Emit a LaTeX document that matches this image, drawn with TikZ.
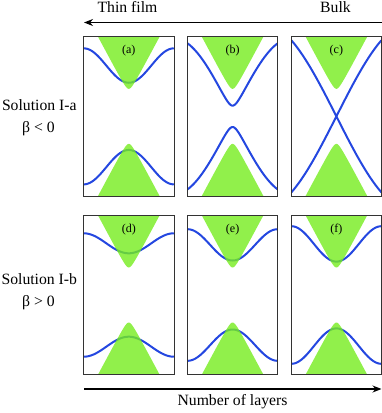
\documentclass[tikz,border=0pt]{standalone}
\usepackage{fontspec}
\setmainfont{Liberation Serif}
\usetikzlibrary{arrows.meta}
\definecolor{bandblue}{HTML}{2447E0}
\definecolor{conelime}{HTML}{76EC1E}
\definecolor{boxink}{HTML}{333333}
\tikzset{
  panel/.style={draw=boxink, line width=1pt},
  slot/.style={inner sep=0pt, minimum width=90pt, minimum height=159.5pt},
  band/.style={bandblue, line width=2pt},
  cone/.style={fill=conelime, fill opacity=0.8},
  tag/.style={font=\fontsize{12}{14}\selectfont, inner sep=0pt},
  lbl/.style={font=\fontsize{15.7}{18}\selectfont, inner sep=0pt, anchor=base},
  arr/.style={-{Stealth[length=9pt,width=7pt]}, line width=1.2pt},
}
\begin{document}
\begin{tikzpicture}[x=1pt,y=-1pt]
  \useasboundingbox (0,0) rectangle (382,413);
  % panels with smooth gapped bands
  \foreach \cx/\cy/\m/\M/\tg in {128.8/116.35/33.6/68/a, 128.8/295/41.7/61.7/d,
      232.6/295/34.5/65.8/e, 336.4/295/33.4/68.8/f}{
    \node[slot] (p\tg) at (\cx,\cy) {};
    \begin{scope}
      \clip (p\tg.south west) rectangle (p\tg.north east);
      \draw[band] plot[variable=\u, domain=-1:1, samples=61, smooth]
        ({\cx+45*\u}, {\cy-(\m+(\M-\m)*(1-cos(180*\u))/2)});
      \draw[band] plot[variable=\u, domain=-1:1, samples=61, smooth]
        ({\cx+45*\u}, {\cy+(\m+(\M-\m)*(1-cos(180*\u))/2)});
      \fill[cone] plot[variable=\u, domain=-34:34, samples=69]
        ({\cx+\u}, {\cy-21.5-sqrt(36+(1.877*\u)*(1.877*\u))}) -- cycle;
      \fill[cone] plot[variable=\u, domain=-34:34, samples=69]
        ({\cx+\u}, {\cy+21.5+sqrt(36+(1.877*\u)*(1.877*\u))}) -- cycle;
    \end{scope}
    \draw[panel] (p\tg.south west) rectangle (p\tg.north east);
    \node[tag, below=9pt] (t\tg) at (p\tg.north) {(\tg)};
  }
  % panels with Dirac-like bands
  \foreach \cx/\m/\A/\c/\s/\tg in {232.6/10.7/72.2/68.75/0.932/b, 336.4/0/76/54.43/0.8134/c}{
    \node[slot] (p\tg) at (\cx,116.35) {};
    \begin{scope}
      \clip (p\tg.south west) rectangle (p\tg.north east);
      \draw[band] plot[variable=\u, domain=-1:1, samples=101]
        ({\cx+45*\u}, {116.35-sqrt(\m*\m+(\A*sin(\c*\u)/\s)*(\A*sin(\c*\u)/\s))});
      \draw[band] plot[variable=\u, domain=-1:1, samples=101]
        ({\cx+45*\u}, {116.35+sqrt(\m*\m+(\A*sin(\c*\u)/\s)*(\A*sin(\c*\u)/\s))});
      \fill[cone] plot[variable=\u, domain=-34:34, samples=69]
        ({\cx+\u}, {116.35-21.5-sqrt(36+(1.877*\u)*(1.877*\u))}) -- cycle;
      \fill[cone] plot[variable=\u, domain=-34:34, samples=69]
        ({\cx+\u}, {116.35+21.5+sqrt(36+(1.877*\u)*(1.877*\u))}) -- cycle;
    \end{scope}
    \draw[panel] (p\tg.south west) rectangle (p\tg.north east);
    \node[tag, below=9pt] (t\tg) at (p\tg.north) {(\tg)};
  }
  % axes and labels
  \coordinate (topR) at (382,22.5);
  \coordinate (topL) at (84,22.5);
  \coordinate (botL) at (84,389);
  \coordinate (botR) at (381.5,389);
  \draw[arr] (topR) -- (topL);
  \draw[arr] (botL) -- (botR);
  \node[lbl] (thin) at (127.5,12.7) {Thin film};
  \node[lbl] (bulk) at (335.5,12.7) {Bulk};
  \node[lbl] (nlayers) at (232.5,405.5) {Number of layers};
  \node[lbl] (solA) at (39.3,110.7) {Solution I-a};
  \node[lbl] (betaA) at (38.5,132.5) {β < 0};
  \node[lbl] (solB) at (39.3,284.3) {Solution I-b};
  \node[lbl] (betaB) at (38.5,306.5) {β > 0};
\end{tikzpicture}
\end{document}
